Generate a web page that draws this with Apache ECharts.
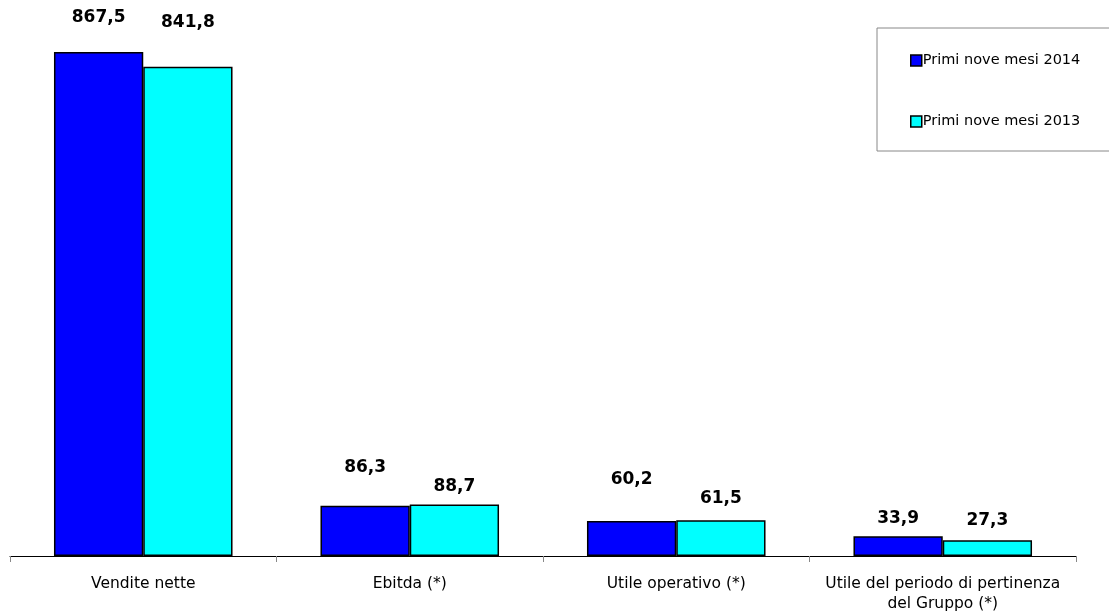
<!DOCTYPE html>
<html>
<head>
<meta charset="utf-8">
<script src="https://cdn.jsdelivr.net/npm/echarts@6/dist/echarts.min.js"></script>
<style>
  html, body { margin: 0; padding: 0; background: #fff; }
  #chart { width: 1109px; height: 615px; }
</style>
</head>
<body>
<div id="chart"></div>
<script>
const categories = [
  "Vendite nette",
  "Ebitda (*)",
  "Utile operativo (*)",
  "Utile del periodo di pertinenza\ndel Gruppo (*)",
];
const seriesNames = ["Primi nove mesi 2014", "Primi nove mesi 2013"];
const values2014 = [867.5, 86.3, 60.2, 33.9];
const values2013 = [841.8, 88.7, 61.5, 27.3];

// label distances above the bars (they were hand-placed in the original)
const lift2014 = [26, 30, 33, 9];
const lift2013 = [36, 9, 13, 11];

const fmt = (v) => v.toFixed(1).replace(".", ",");

function makeSeries(name, values, lift, color) {
  return {
    name,
    type: "bar",
    barGap: "0%",
    barCategoryGap: "33%",
    itemStyle: { color, borderColor: "#000", borderWidth: 1.5 },
    data: values.map((v, i) => ({
      value: v,
      label: { distance: lift[i] },
    })),
    label: {
      show: true,
      position: "top",
      formatter: (p) => fmt(p.value),
      color: "#000",
      fontFamily: "DejaVu Sans",
      fontWeight: "bold",
      fontSize: 17,
    },
  };
}

const chart = echarts.init(document.getElementById("chart"));
chart.setOption({
  animation: false,
  textStyle: { fontFamily: "DejaVu Sans" },
  grid: { left: 10, right: 33, top: 33, bottom: 59, containLabel: false },
  legend: {
    orient: "vertical",
    left: 877,
    top: 28,
    padding: [25, 60, 22, 33],
    itemGap: 46,
    itemWidth: 11,
    itemHeight: 11,
    icon: "rect",
    borderColor: "#888",
    borderWidth: 1,
    itemStyle: { borderColor: "#000", borderWidth: 1.5 },
    textStyle: { color: "#000", fontSize: 14.5, fontFamily: "DejaVu Sans", padding: [0, 0, 0, -4] },
    data: seriesNames,
  },
  xAxis: {
    type: "category",
    data: categories,
    axisLine: { lineStyle: { color: "#000", width: 1 } },
    axisTick: { show: true, length: 6, lineStyle: { color: "#888" } },
    axisLabel: { color: "#000", fontSize: 15.5, fontFamily: "DejaVu Sans", margin: 18, lineHeight: 20, interval: 0 },
  },
  yAxis: {
    type: "value",
    min: 0,
    max: 900,
    show: false,
    splitLine: { show: false },
  },
  series: [
    makeSeries(seriesNames[0], values2014, lift2014, "#0000FF"),
    makeSeries(seriesNames[1], values2013, lift2013, "#00FFFF"),
  ],
});
</script>
</body>
</html>
